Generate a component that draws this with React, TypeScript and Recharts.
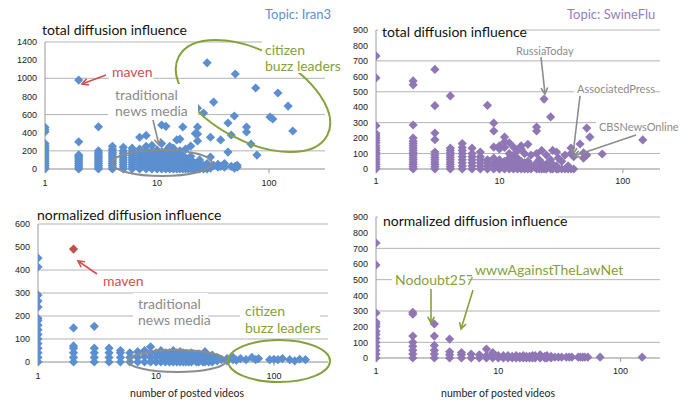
import React from 'react'
import { ScatterChart, Scatter, XAxis, YAxis, CartesianGrid } from 'recharts'

// --- data: [videos posted, influence values at that count] ---
type Column = [number, number[]]

const iranTotalCols: Column[] = [
  [1, [0, 20, 40, 60, 80, 100, 120, 140, 160, 180, 200, 220, 240, 260, 280, 410, 435, 460]],
  [2, [0, 20, 40, 60, 80, 100, 120, 140, 155, 300]],
  [3, [0, 20, 40, 60, 80, 100, 120, 140, 160, 180, 200, 465]],
  [4, [0, 20, 40, 60, 80, 100, 120, 140, 160, 180, 200, 220, 250]],
  [5, [0, 25, 50, 75, 100, 125, 150, 175, 200, 240]],
  [6, [0, 25, 50, 75, 100, 125, 150, 175, 200, 230]],
  [7, [0, 25, 50, 75, 100, 125, 150, 180, 220, 350]],
  [8, [0, 25, 50, 75, 100, 130, 160, 200, 250, 370]],
  [9, [0, 25, 50, 75, 100, 130, 160, 200, 260]],
  [10, [0, 25, 50, 75, 100, 130, 170, 210]],
  [11, [0, 25, 50, 80, 110, 140, 190, 280, 485]],
  [12, [0, 25, 50, 80, 110, 150, 200, 470]],
  [13, [0, 25, 50, 80, 120, 160, 250]],
  [14, [0, 25, 50, 90, 130, 180, 230]],
  [15, [0, 25, 60, 100, 140, 320]],
  [16, [0, 25, 60, 100, 150, 200, 330]],
  [17, [0, 30, 70, 110, 150, 463]],
  [18, [0, 30, 70, 120, 220]],
  [19, [0, 30, 70, 110]],
  [20, [0, 30, 60, 100, 140, 253]],
  [21, [0, 40, 80]],
  [22, [0, 30, 60, 390]],
  [23, [0, 40, 310, 386, 463, 670]],
  [24, [0, 30, 60, 100]],
  [26, [0, 40, 617]],
  [28, [0, 20, 60, 1170]],
  [30, [10, 132, 350]],
  [32, [40, 738]],
  [35, [20, 50]],
  [37, [320, 30]],
  [40, [20, 60]],
  [43, [187, 507]],
  [46, [30, 375]],
  [49, [584, 10]],
  [50, [1047, 30]],
  [52, [20, 40]],
  [63, [408, 463]],
  [69, [275]],
  [76, [893]],
  [78, [154]],
  [102, [573]],
  [108, [551]],
  [120, [838]],
  [148, [694]],
  [163, [419]],
]
const iranTotalMaven: Column[] = [[2, [980]]]

const swineTotalCols: Column[] = [
  [1, [0, 15, 30, 45, 60, 75, 90, 105, 120, 135, 150, 170, 185, 200, 215, 230, 280, 590, 732]],
  [2, [0, 15, 30, 45, 60, 75, 90, 105, 120, 135, 150, 165, 180, 200, 285, 545, 570]],
  [3, [0, 15, 30, 45, 60, 75, 90, 110, 190, 233, 410, 645]],
  [4, [0, 15, 30, 45, 60, 75, 90, 105, 120, 135, 473]],
  [5, [0, 20, 40, 60, 80, 100, 120, 140, 165]],
  [6, [0, 20, 40, 60, 80, 100, 135]],
  [7, [0, 20, 40, 60, 80, 110]],
  [8, [0, 20, 40, 60, 412]],
  [9, [0, 20, 40, 70, 142, 246, 298]],
  [10, [0, 20, 40, 60, 130, 150]],
  [11, [0, 20, 50, 140, 175, 207]],
  [12, [0, 20, 40, 70, 100, 170]],
  [13, [0, 20, 40, 90, 142]],
  [14, [0, 20, 40, 70, 120]],
  [15, [0, 20, 50, 130, 150]],
  [16, [0, 20, 40, 100]],
  [17, [0, 20, 50, 160]],
  [18, [0, 20, 90]],
  [20, [0, 20, 40, 100, 246, 272]],
  [21, [0, 20, 60]],
  [22, [0, 20, 40, 120]],
  [23, [0, 20, 453]],
  [24, [0, 30, 90]],
  [26, [0, 20, 60, 337]],
  [27, [0, 30, 120]],
  [29, [0, 20, 110]],
  [30, [0, 71]],
  [32, [0, 50]],
  [34, [0, 90]],
  [36, [0, 20]],
  [38, [0, 100, 136]],
  [40, [0, 80]],
  [45, [162]],
  [48, [71, 104]],
  [51, [265, 90]],
  [54, [207]],
  [68, [97]],
  [145, [188]],
]

const iranNormCols: Column[] = [
  [1, [0, 20, 40, 60, 80, 100, 120, 140, 160, 180, 190, 239, 265, 291, 413, 452]],
  [2, [0, 20, 40, 60, 70, 148]],
  [3, [0, 20, 40, 60, 155]],
  [4, [0, 20, 40, 60]],
  [5, [0, 20, 40, 50]],
  [6, [0, 20, 40]],
  [7, [0, 20, 45]],
  [8, [0, 25, 50]],
  [9, [0, 20, 40, 66]],
  [10, [0, 20, 40]],
  [11, [0, 25, 50]],
  [12, [0, 20, 40]],
  [13, [0, 20, 40]],
  [14, [0, 25, 50]],
  [15, [0, 20, 40]],
  [16, [0, 20, 45]],
  [17, [0, 20, 40]],
  [18, [0, 20, 35]],
  [19, [0, 15, 30]],
  [20, [0, 20, 40]],
  [22, [0, 15, 30]],
  [23, [0, 20, 35]],
  [25, [0, 20]],
  [26, [0, 20, 45]],
  [28, [0, 25]],
  [30, [0, 15, 30]],
  [33, [5, 20]],
  [36, [10]],
  [40, [5, 15]],
  [45, [10, 20]],
  [48, [8]],
  [52, [15]],
  [58, [10]],
  [65, [20]],
  [70, [10]],
  [74, [15]],
  [92, [10]],
  [100, [12]],
  [108, [10]],
  [118, [15]],
  [136, [10]],
  [150, [5]],
  [165, [12]],
  [185, [10]],
]
const iranNormMaven: Column[] = [[2, [491]]]

const swineNormCols: Column[] = [
  [1, [0, 25, 50, 75, 100, 125, 150, 170, 200, 215, 230, 287, 594, 734]],
  [2, [0, 25, 50, 75, 100, 140, 280, 292]],
  [3, [0, 25, 50, 80, 140, 217]],
  [4, [0, 20, 40, 121]],
  [5, [0, 20, 35]],
  [6, [0, 25]],
  [7, [0, 20]],
  [8, [0, 15, 57]],
  [9, [0, 20, 35]],
  [10, [0, 15]],
  [11, [0, 15]],
  [12, [0, 15]],
  [13, [0, 10]],
  [14, [0, 15]],
  [15, [0, 10]],
  [16, [0, 15]],
  [17, [0, 10]],
  [18, [0, 10]],
  [19, [0, 15]],
  [20, [0, 15]],
  [22, [0, 20]],
  [24, [0, 10]],
  [25, [0, 15]],
  [27, [0, 10]],
  [29, [5]],
  [31, [5]],
  [33, [5]],
  [36, [5]],
  [38, [5]],
  [40, [5]],
  [45, [5]],
  [47, [5]],
  [49, [5]],
  [51, [5]],
  [54, [5]],
  [68, [5]],
  [150, [5]],
]

const xTicks = [1, 10, 100]
const totalIranTicks = [0, 200, 400, 600, 800, 1000, 1200, 1400]
const normIranTicks = [0, 100, 200, 300, 400, 500, 600]
const swineTicks = [0, 100, 200, 300, 400, 500, 600, 700, 800, 900]

// --- styling ---
const BLUE = '#5b8fd0'
const PURPLE = '#8f77b5'
const MAVEN_RED = '#c0504d'
const GRID = '#b3b3b3'
const AXIS = '#9a9a9a'
const RED = '#d0504f'
const GREEN = '#84a23c'
const GRAY = '#8c8c8c'
const TICK_FONT = { fill: '#222', fontSize: 9, fontFamily: 'Liberation Sans' }
const LABEL_FONT = 'Lato'

const toPoints = (cols: Column[]) =>
  cols.flatMap(([x, ys]) => ys.map((y) => ({ x, y })))

const diamond = (fill: string) => (props: any) => {
  const { cx, cy } = props
  if (cx == null || cy == null) return <g />
  const r = 4.6
  return <path d={`M${cx},${cy - r}L${cx + r},${cy}L${cx},${cy + r}L${cx - r},${cy}Z`} fill={fill} />
}

interface PanelProps {
  left: number
  top: number
  width: number
  height: number
  margin: { top: number; right: number; bottom: number; left: number }
  yWidth: number
  xMax: number
  yTicks: number[]
  xTickMargin: number
  series: { data: Column[]; color: string }[]
}

function Panel({ left, top, width, height, margin, yWidth, xMax, yTicks, xTickMargin, series }: PanelProps) {
  return (
    <div style={{ position: 'absolute', left, top }}>
      <ScatterChart width={width} height={height} margin={margin}>
        <CartesianGrid vertical={false} stroke={GRID} strokeWidth={1} />
        <XAxis
          type="number"
          dataKey="x"
          scale="log"
          domain={[1, xMax]}
          ticks={xTicks}
          allowDataOverflow
          height={20}
          tick={TICK_FONT}
          tickSize={4}
          tickMargin={xTickMargin}
          tickLine={{ stroke: AXIS }}
          axisLine={{ stroke: GRID }}
        />
        <YAxis
          type="number"
          dataKey="y"
          domain={[yTicks[0], yTicks[yTicks.length - 1]]}
          ticks={yTicks}
          width={yWidth}
          tick={TICK_FONT}
          tickLine={false}
          tickSize={0}
          tickMargin={8}
          axisLine={{ stroke: AXIS }}
        />
        {series.map((s, i) => (
          <Scatter key={i} data={toPoints(s.data)} shape={diamond(s.color)} isAnimationActive={false} />
        ))}
      </ScatterChart>
    </div>
  )
}

function Arrow({ x1, y1, x2, y2, color }: { x1: number; y1: number; x2: number; y2: number; color: string }) {
  const a = Math.atan2(y2 - y1, x2 - x1)
  const L = 7
  const w = 0.5
  const p1 = `${x2 - L * Math.cos(a - w)},${y2 - L * Math.sin(a - w)}`
  const p2 = `${x2 - L * Math.cos(a + w)},${y2 - L * Math.sin(a + w)}`
  return (
    <g stroke={color} strokeWidth={1.6} fill="none">
      <line x1={x1} y1={y1} x2={x2} y2={y2} />
      <polyline points={`${p1} ${x2},${y2} ${p2}`} />
    </g>
  )
}

function Label({ x, y, text, color, size = 14, bg }: { x: number; y: number; text: string; color: string; size?: number; bg?: [number, number] }) {
  return (
    <g>
      {bg && <rect x={x - 3} y={y - bg[1] / 2} width={bg[0]} height={bg[1]} fill="#fff" />}
      <text x={x} y={y} fill={color} fontSize={size} fontFamily={LABEL_FONT} dominantBaseline="central">
        {text}
      </text>
    </g>
  )
}

function Overlay() {
  return (
    <svg width={683} height={401} style={{ position: 'absolute', left: 0, top: 0, pointerEvents: 'none' }}>
      {/* top-left: Iran3 total */}
      <Label x={265} y={14} text="Topic: Iran3" color="#5d8fd1" size={13} />
      <Label x={42} y={29} text="total  diffusion influence" color="#111" size={14} />
      <ellipse cx={253} cy={96} rx={84} ry={45} transform="rotate(28 253 96)" fill="none" stroke={GREEN} strokeWidth={2} />
      <Label x={265} y={49} text="citizen" color={GREEN} bg={[72, 18]} />
      <Label x={265} y={65} text="buzz leaders" color={GREEN} bg={[75, 16]} />
      <Label x={112} y={71} text="maven" color={RED} bg={[44, 16]} />
      <Arrow x1={106} y1={75} x2={82} y2={84} color={RED} />
      <rect x={108} y={84} width={90} height={34} fill="#fff" />
      <Label x={115} y={94} text="traditional" color={GRAY} />
      <Label x={115} y={110} text="news media" color={GRAY} />
      <ellipse cx={162} cy={163} rx={50} ry={13} fill="none" stroke={GRAY} strokeWidth={2} />
      <Arrow x1={153} y1={120} x2={159} y2={145} color={GRAY} />

      {/* top-right: SwineFlu total */}
      <Label x={567} y={14} text="Topic: SwineFlu" color="#9480b8" size={13} />
      <rect x={378} y={22} width={145} height={18} fill="#fff" />
      <Label x={382} y={31} text="total  diffusion influence" color="#111" size={14} />
      <Label x={516} y={50} text="RussiaToday" color={GRAY} size={11} bg={[62, 14]} />
      <Arrow x1={541} y1={57} x2={545} y2={94} color={GRAY} />
      <Label x={577} y={88} text="AssociatedPress" color={GRAY} size={11} bg={[80, 14]} />
      <Arrow x1={580} y1={96} x2={573} y2={154} color={GRAY} />
      <Label x={599} y={126} text="CBSNewsOnline" color={GRAY} size={11} bg={[80, 14]} />
      <Arrow x1={636} y1={135} x2={574} y2={156} color={GRAY} />

      {/* bottom-left: Iran3 normalized */}
      <Label x={37} y={214} text="normalized diffusion influence" color="#111" size={14} />
      <Label x={103} y={280} text="maven" color={RED} bg={[44, 16]} />
      <Arrow x1={97} y1={274} x2={78} y2={261} color={RED} />
      <rect x={133} y={293} width={75} height={34} fill="#fff" />
      <Label x={138} y={303} text="traditional" color={GRAY} />
      <Label x={138} y={319} text="news media" color={GRAY} />
      <rect x={240} y={300} width={80} height={36} fill="#fff" />
      <Label x={245} y={310} text="citizen" color={GREEN} />
      <Label x={245} y={327} text="buzz leaders" color={GREEN} />
      <ellipse cx={177} cy={361} rx={49} ry={11} fill="none" stroke={GRAY} strokeWidth={2} />
      <ellipse cx={279} cy={361} rx={51} ry={21} fill="none" stroke={GREEN} strokeWidth={2} />
      <text x={187} y={393} textAnchor="middle" dominantBaseline="central" fontSize={10.5} fontFamily={LABEL_FONT} fill="#222">
        number of posted videos
      </text>

      {/* bottom-right: SwineFlu normalized */}
      <rect x={378} y={211} width={180} height={18} fill="#fff" />
      <Label x={383} y={220} text="normalized diffusion influence" color="#111" size={14} />
      <Label x={395} y={279} text="Nodoubt257" color={GREEN} size={14} bg={[76, 16]} />
      <Label x={475} y={269} text="wwwAgainstTheLawNet" color={GREEN} size={14} bg={[138, 16]} />
      <Arrow x1={431} y1={289} x2={431} y2={323} color={GREEN} />
      <Arrow x1={473} y1={290} x2={461} y2={329} color={GREEN} />
      <text x={498} y={393} textAnchor="middle" dominantBaseline="central" fontSize={10.5} fontFamily={LABEL_FONT} fill="#222">
        number of posted videos
      </text>
    </svg>
  )
}

export default function App() {
  return (
    <div style={{ position: 'absolute', left: 0, top: 0, width: 683, height: 401, background: '#fff', overflow: 'hidden' }}>
      <Panel
        left={0}
        top={0}
        width={340}
        height={200}
        margin={{ top: 42, right: 15, bottom: 11, left: 5 }}
        yWidth={40}
        xMax={316}
        yTicks={totalIranTicks}
        xTickMargin={7}
        series={[{ data: iranTotalCols, color: BLUE }, { data: iranTotalMaven, color: BLUE }]}
      />
      <Panel
        left={340}
        top={0}
        width={343}
        height={200}
        margin={{ top: 30, right: 23, bottom: 11, left: 6 }}
        yWidth={30}
        xMax={200}
        yTicks={swineTicks}
        xTickMargin={5}
        series={[{ data: swineTotalCols, color: PURPLE }]}
      />
      <Panel
        left={0}
        top={200}
        width={340}
        height={201}
        margin={{ top: 24, right: 12, bottom: 19, left: 3 }}
        yWidth={35}
        xMax={287}
        yTicks={normIranTicks}
        xTickMargin={7}
        series={[{ data: iranNormCols, color: BLUE }, { data: iranNormMaven, color: MAVEN_RED }]}
      />
      <Panel
        left={340}
        top={200}
        width={343}
        height={201}
        margin={{ top: 17, right: 23, bottom: 23, left: 6 }}
        yWidth={30}
        xMax={210}
        yTicks={swineTicks}
        xTickMargin={6}
        series={[{ data: swineNormCols, color: PURPLE }]}
      />
      <Overlay />
    </div>
  )
}
